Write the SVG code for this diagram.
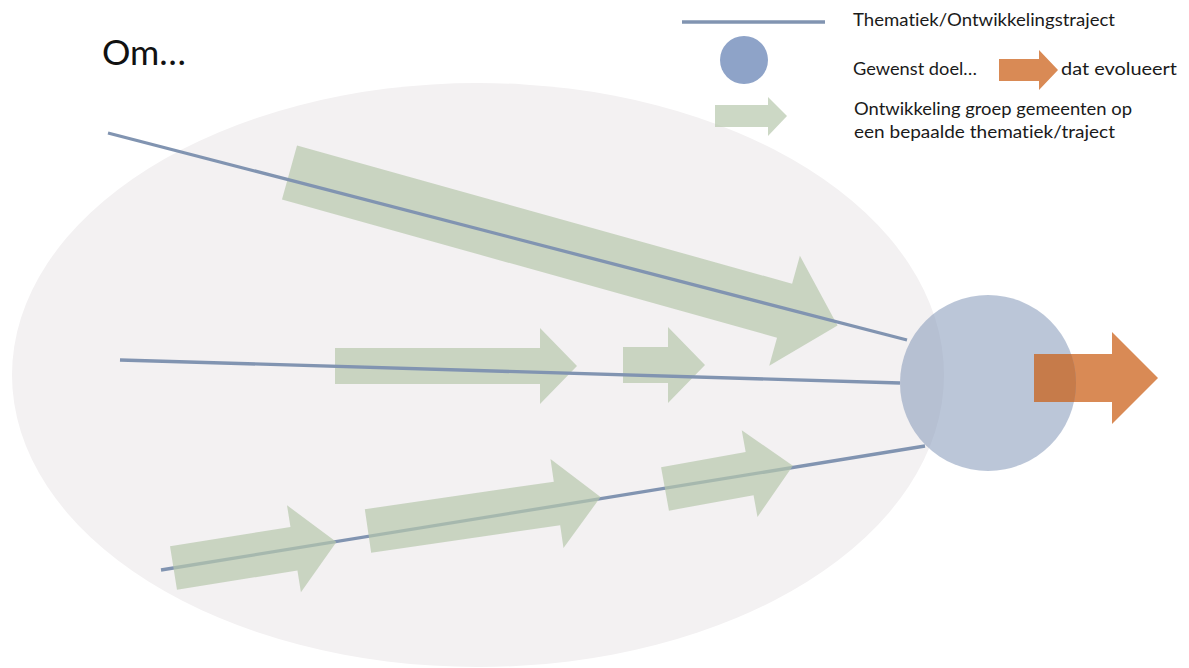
<svg xmlns="http://www.w3.org/2000/svg" width="1189" height="668" viewBox="0 0 1189 668">
  <defs>
    <style>
      .lbl { font-family: Lato, "Liberation Sans", sans-serif; font-size: 17.5px; fill: #1a1a1a; font-variant-ligatures: none; }
      .title { font-family: Lato, "Liberation Sans", sans-serif; font-size: 35px; fill: #111; }
      .track { stroke: #8194b1; stroke-width: 3.3; fill: none; stroke-linecap: butt; }
      .grow { fill: #b7c8ad; fill-opacity: 0.7; }
      .goal { fill: #8497b8; fill-opacity: 0.55; }
      .evolve { fill: #d98a55; }
    </style>
    <clipPath id="goalClip">
      <circle cx="988" cy="383" r="88"/>
    </clipPath>
  </defs>

  <rect width="1189" height="668" fill="#ffffff"/>

  <!-- field of municipalities -->
  <ellipse id="field" cx="478" cy="375" rx="466" ry="292" fill="#f3f1f2"/>

  <!-- bottom trajectory sits beneath its growth arrows -->
  <g id="connectors-under">
    <line class="track" x1="161" y1="570" x2="925" y2="446"/>
  </g>

  <!-- growth arrows -->
  <g id="arrow-top">
    <path class="grow" transform="translate(289.5 172.5) rotate(15.6)" d="M0,-28 H514 V-57 L569,0 L514,57 V28 H0 Z"/>
  </g>
  <g id="arrow-mid-1">
    <path class="grow" d="M335,348 H540 V328 L577,366 L540,404 V384 H335 Z"/>
  </g>
  <g id="arrow-mid-2">
    <path class="grow" d="M623,347 H668 V327 L705,365 L668,403 V383 H623 Z"/>
  </g>
  <g id="arrow-low-1">
    <path class="grow" transform="translate(173.5 568) rotate(-9.1)" d="M0,-22 H122 V-44 L165,0 L122,44 V22 H0 Z"/>
  </g>
  <g id="arrow-low-2">
    <path class="grow" transform="translate(368 531) rotate(-8.3)" d="M0,-22 H191 V-45 L235,0 L191,45 V22 H0 Z"/>
  </g>
  <g id="arrow-low-3">
    <path class="grow" transform="translate(665 489) rotate(-10.3)" d="M0,-22 H86 V-44 L130,0 L86,44 V22 H0 Z"/>
  </g>

  <!-- upper trajectories drawn over their arrows -->
  <g id="connectors">
    <line class="track" x1="108" y1="133" x2="907" y2="340"/>
    <line class="track" x1="120" y1="360" x2="900" y2="383"/>
  </g>

  <!-- evolving goal -->
  <g id="goal-arrow">
    <path class="evolve" d="M1034,354 H1112 V332 L1158,378 L1112,424 V402 H1034 Z"/>
  </g>
  <g id="goal">
    <circle class="goal" cx="988" cy="383" r="88"/>
    <path clip-path="url(#goalClip)" fill="#c67b4a" d="M1034,354 H1112 V332 L1158,378 L1112,424 V402 H1034 Z"/>
  </g>

  <!-- heading -->
  <g id="heading">
    <text class="title" x="102" y="65" textLength="84" lengthAdjust="spacingAndGlyphs">Om…</text>
  </g>

  <!-- legend -->
  <g id="legend-track">
    <line class="track" x1="682" y1="22" x2="825" y2="22"/>
    <text class="lbl" x="853" y="26" textLength="262" lengthAdjust="spacingAndGlyphs">Thematiek/Ontwikkelingstraject</text>
  </g>
  <g id="legend-goal">
    <circle cx="744" cy="60" r="24" fill="#8ea3c8"/>
    <text class="lbl" x="853" y="75" textLength="124" lengthAdjust="spacingAndGlyphs">Gewenst doel…</text>
  </g>
  <g id="legend-evolve">
    <path class="evolve" d="M999,59 H1039 V50 L1058,70 L1039,90 V81 H999 Z"/>
    <text class="lbl" x="1061" y="75" textLength="116" lengthAdjust="spacingAndGlyphs">dat evolueert</text>
  </g>
  <g id="legend-grow">
    <path class="grow" d="M715,105 H768 V97 L787,116 L768,136 V127 H715 Z"/>
    <text class="lbl" x="854" y="115" textLength="278" lengthAdjust="spacingAndGlyphs">Ontwikkeling groep gemeenten op</text>
    <text class="lbl" x="854" y="138" textLength="261" lengthAdjust="spacingAndGlyphs">een bepaalde thematiek/traject</text>
  </g>
</svg>
